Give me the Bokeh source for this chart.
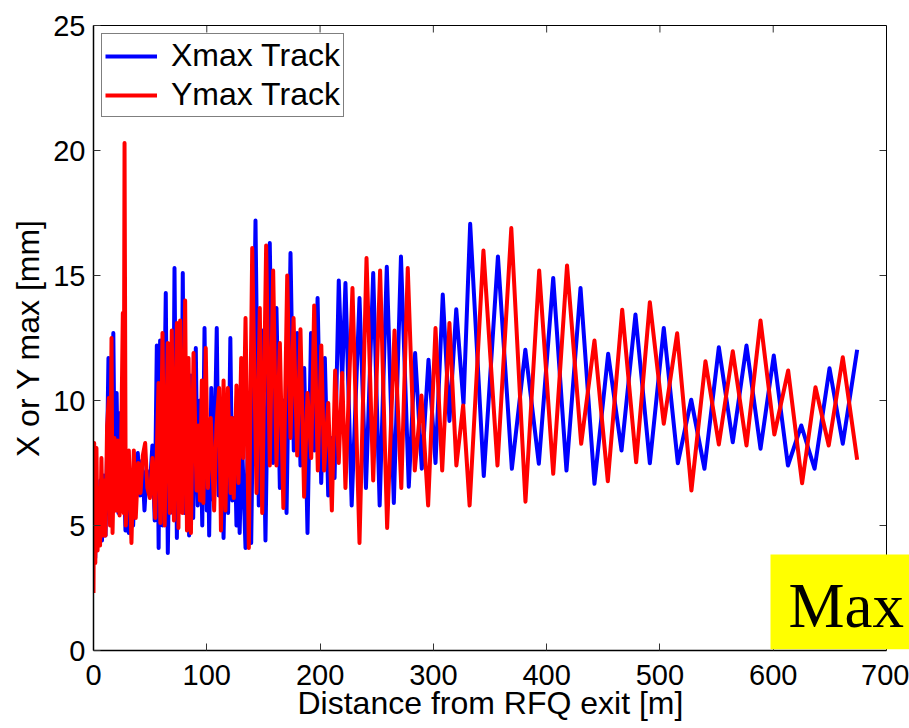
from bokeh.plotting import figure
from bokeh.models import Range1d, FixedTicker, LinearAxis, Label, BoxAnnotation, Title
from bokeh.embed import file_html
from bokeh.resources import INLINE

# ---- data ----
x_ticks = [0, 100, 200, 300, 400, 500, 600, 700]
y_ticks = [0, 5, 10, 15, 20, 25]

xmax_dist = [0, 1.5, 3, 4.5, 6, 7.5, 9, 10.6, 12, 13.2, 14.5, 16, 17.5, 19, 20.4, 22, 23.6, 25, 26.5, 28.2,
             29.5, 31.2, 33, 35, 37, 39.1, 41, 43, 45, 47, 49.5, 52, 54, 55.9, 57.5, 58.8, 61, 63.8, 65.6, 68,
             70, 71.5, 73.6, 76, 77.5, 78.8, 80.5, 82, 84.4, 86, 88, 90.3, 92, 94, 96, 98, 100, 101, 102.1, 104,
             106, 108.8, 110.5, 112.5, 114.8, 117, 118.8, 120.8, 122.5, 124.3, 126.2, 127.5, 129, 131, 134.2,
             136.5, 139.2, 143, 145.9, 148.9, 151.8, 155.6, 158.5, 161.5, 164.5, 167.5, 170.4, 173.9, 176.8,
             179.8, 182.7, 186.0, 188.9, 192.0, 195, 197.8, 201, 204.2, 207.2, 209.8, 212.8, 216.5, 219.5,
             222.4, 227.9, 234.8, 240.5, 246.9, 252.6, 258.9, 265.1, 271.4, 278.3, 283.9, 289.8, 295.7, 301.9,
             308.3, 314.2, 320.2, 326.6, 332.5, 344.5, 357.0, 369.3, 381.2, 393.1, 405.8, 417.5, 429.9, 442.2,
             454.3, 466.1, 478.4, 491.1, 503.4, 515.8, 527.6, 539.3, 552, 564.3, 576.4, 588.8, 600.5, 613.0,
             624.8, 636.5, 649.7, 661.4, 674.1]
xmax_val = [5.5, 3.7, 6.3, 4.3, 6.8, 4.4, 7.0, 4.6, 8.0, 11.7, 5.4, 7.5, 12.7, 5.8, 10.3, 5.5, 9.5, 6.0, 7.8, 4.8,
            6.5, 4.7, 7.2, 5.0, 7.4, 7.9, 6.2, 7.6, 5.6, 7.2, 6.4, 8.2, 5.2, 12.2, 4.1, 12.4, 5.0, 14.3, 3.9, 11.0,
            5.5, 15.3, 4.5, 12.5, 6.0, 15.1, 5.5, 10.5, 4.6, 11.0, 5.3, 12.1, 5.8, 10.0, 5.0, 12.9, 5.6, 9.0, 4.6, 10.5,
            6.0, 12.9, 6.2, 9.5, 4.5, 10.0, 5.5, 12.5, 6.0, 9.3, 5.0, 8.8, 4.7, 8.5, 4.1,
            9.0, 4.3, 17.2, 5.8, 12.8, 4.4, 16.3, 7.5, 13.7, 6.5, 10.0, 5.5, 15.9, 8.0,
            12.7, 7.4, 11.3, 4.7, 12.7, 8.0, 14.1, 6.7, 11.7, 6.2, 8.5, 6.9, 14.8, 10.8,
            14.7, 5.8, 14.1, 6.5, 15.1, 5.8, 15.35, 5.9, 15.76, 6.55, 11.9, 7.27, 11.63, 7.5,
            14.24, 9.18, 13.65, 9.87, 17.07, 6.98, 15.76, 7.27, 12.03, 7.47, 14.9, 7.2, 14.5, 6.67,
            11.87, 8.0, 13.44, 7.49, 12.9, 7.49, 10.03, 7.27, 12.13, 8.33, 12.2, 8.07, 11.8, 7.4,
            9.0, 7.27, 11.29, 8.27, 12.03]

ymax_dist = [0, 0.6, 1.6, 2.6, 3.6, 4.7, 5.8, 7.0, 8.3, 9.6, 10.6, 12, 13.5, 14.6, 15.9, 16.8, 18.5, 20.0, 21.5,
             23.0, 24.5, 25.9, 26.6, 27.4, 28.5, 30.0, 31.2, 33.5, 35.6, 37.3, 39.5, 41.5, 43.5, 45.6, 47.5, 49.8,
             52, 54.5, 57.4, 59, 60.9, 62.8, 65.6, 67.3, 69.1, 71, 73.6, 75, 76.5, 78.5, 80.9, 82.5, 83.9, 86, 88.3,
             91, 92.5, 94, 95.6, 97, 99.1, 101, 103.5, 106.5, 108.5, 110.9, 112.5, 114.8, 116.5, 118.6, 121, 122.1,
             123.8, 126.2, 128, 130.4, 132.1, 134.2, 137.1, 140.1, 143.9, 146.8, 148.9, 152.4, 155.6, 158.6, 161.5,
             164.5, 167.6, 171, 173.9, 176.6, 179.8, 182.7, 185.9, 188.9, 192.2, 194.8, 198, 201.1, 203.6, 207.2,
             210.4, 213.3, 216.5, 219.5, 222.4, 228.6, 234.8, 241, 246.9, 253, 259.2, 265.7, 271.7, 277.4, 283.6,
             289.5, 295.4, 301.9, 307.8, 314.2, 320.3, 326.3, 332, 344.2, 356.6, 368.8, 381.3, 393.4, 405.8, 418,
             430.5, 442.2, 454, 466.7, 479, 491.1, 503.4, 515.2, 527.8, 540.2, 552, 564.3, 576.4, 588.8, 601,
             613.2, 625.5, 637.3, 649, 661.4, 674.1]
ymax_val = [2.3, 8.3, 3.5, 8.1, 4.0, 6.5, 4.2, 7.7, 4.6, 6.8, 4.6, 9.0, 10.1, 5.0, 12.5, 4.7, 8.5, 5.6, 8.4,
            5.4, 8.5, 13.5, 5.5, 20.3, 5.0, 6.5, 8.0, 4.3, 8.0, 5.3, 7.5, 6.3, 7.8, 8.3, 6.5, 6.1,
            7.7, 5.3, 10.7, 5.1, 12.7, 5.0, 12.3, 5.5, 12.8, 5.2, 13.1, 4.9, 13.2, 5.5, 14.0, 4.8, 11.7, 4.7, 11.9,
            6.4, 9.0, 6.0, 10.8, 5.9, 12.1, 6.5, 9.3, 5.6, 9.0, 10.5, 4.8, 10.8, 5.6, 10.5, 6.3, 9.3,
            6.1, 10.6, 6.7, 11.7, 7.7, 13.3, 4.1, 16.1, 6.3, 13.7, 5.5, 16.2, 7.4, 15.2, 7.4,
            12.3, 5.7, 15.0, 8.5, 13.3, 7.8, 12.85, 6.15, 10.3, 7.7, 13.8, 7.2, 12.2, 7.2, 9.9,
            5.6, 11.2, 7.5, 11.1, 6.5, 14.5, 4.3, 15.7, 6.8, 15.2, 4.9, 12.8, 6.5, 15.3, 7.2,
            10.2, 5.8, 12.9, 7.2, 13.1, 7.4, 9.8, 5.8, 16.0, 7.4, 16.9, 5.95, 15.2, 7.07, 15.4,
            8.27, 12.4, 6.77, 13.63, 7.53, 13.93, 9.07, 12.69, 6.4, 11.57, 8.24, 11.97, 8.2, 13.2, 8.64,
            11.2, 6.69, 10.53, 8.2, 11.73, 7.63]

FONT = "Liberation Sans"
X_END = 700          # end of the drawn axes box
X_VIEW = 720.3       # frame extends to the page edge so the yellow tag can reach it
Y_END = 25
TICK_PX = 7

p = figure(width=909, height=728, x_range=Range1d(0, X_VIEW), y_range=Range1d(0, Y_END),
           output_backend="svg", toolbar_location=None,
           min_border_left=93, min_border_right=0, min_border_top=25, min_border_bottom=78)

p.line(xmax_dist, xmax_val, line_color="#0000ff", line_width=4, line_join="round", legend_label="Xmax Track")
p.line(ymax_dist, ymax_val, line_color="#ff0000", line_width=4, line_join="round", legend_label="Ymax Track")

# inward ticks on the top and right edges of the axes box (MATLAB "box on")
tx_len = TICK_PX / 25.0
ty_len = TICK_PX / (793.0 / X_END)
p.segment(x0=x_ticks, y0=[Y_END] * len(x_ticks), x1=x_ticks, y1=[Y_END - tx_len] * len(x_ticks),
          line_color="#333333", line_width=1)
p.segment(x0=[X_END] * len(y_ticks), y0=y_ticks, x1=[X_END - ty_len] * len(y_ticks), y1=y_ticks,
          line_color="#333333", line_width=1)

p.xgrid.visible = False
p.ygrid.visible = False
p.outline_line_color = None

for ax in (p.xaxis[0], p.yaxis[0]):
    ax.major_tick_in = TICK_PX
    ax.major_tick_out = 0
    ax.minor_tick_in = 0
    ax.minor_tick_out = 0
    ax.axis_line_color = "black"
    ax.axis_line_width = 1.5
    ax.major_tick_line_color = "#333333"
    ax.major_label_text_font = FONT
    ax.major_label_text_font_size = "29px"
    ax.major_label_text_color = "black"
    ax.axis_label_text_font = FONT
    ax.axis_label_text_font_style = "normal"
    ax.axis_label_text_color = "black"

p.xaxis.bounds = (0, X_END)
p.xaxis.ticker = FixedTicker(ticks=x_ticks)
p.yaxis.ticker = FixedTicker(ticks=y_ticks)
p.yaxis.axis_label = "X or Y max [mm]"
p.yaxis.axis_label_text_font_size = "32px"
p.xaxis.major_label_standoff = 14
p.yaxis.major_label_standoff = 8
p.yaxis.axis_label_standoff = 4

xlab = Title(text="Distance from RFQ exit [m]", align="left", offset=204, standoff=-10,
             vertical_align="bottom", text_font=FONT, text_font_size="32px", text_font_style="normal",
             text_color="black")
p.add_layout(xlab, "below")

# axis lines of the top and right box edges (ticks drawn above)
top_ax = LinearAxis(ticker=FixedTicker(ticks=[]), bounds=(0, X_END), axis_line_color="black",
                    major_tick_in=0, major_tick_out=0, minor_tick_in=0, minor_tick_out=0)
p.add_layout(top_ax, "above")
right_ax = LinearAxis(ticker=FixedTicker(ticks=[]), fixed_location=X_END, axis_line_color="black",
                      major_tick_in=0, major_tick_out=0, minor_tick_in=0, minor_tick_out=0)
p.add_layout(right_ax, "right")

lg = p.legend[0]
lg.location = "top_left"
lg.margin = 8
lg.padding = 3
lg.spacing = 2
lg.glyph_width = 52
lg.glyph_height = 30
lg.label_height = 30
lg.label_standoff = 14
lg.label_text_font = FONT
lg.label_text_font_size = "32px"
lg.label_text_color = "black"
lg.border_line_color = "black"
lg.border_line_width = 1.5
lg.background_fill_alpha = 1

box = BoxAnnotation(left=597.6, bottom=0.05, top=3.84, fill_color="#ffff00", fill_alpha=1, line_color=None)
p.add_layout(box)
tag = Label(x=613.5, y=1.8, x_units="data", y_units="data", text="Max",
            text_font="Liberation Serif", text_font_size="63px", text_color="black",
            text_align="left", text_baseline="alphabetic")
p.add_layout(tag)

open("out.html", "w").write(file_html(p, INLINE))
